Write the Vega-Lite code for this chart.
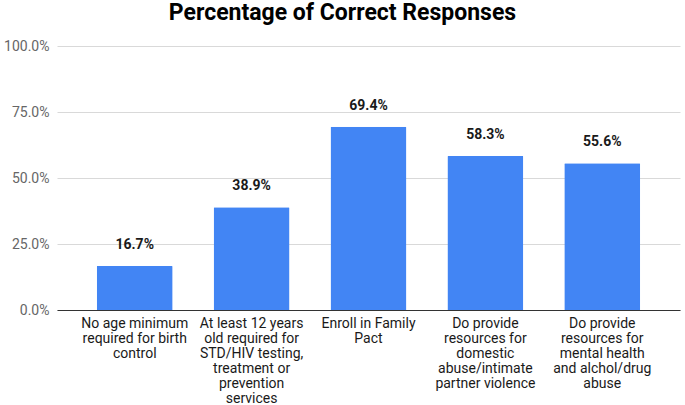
{
  "$schema": "https://vega.github.io/schema/vega-lite/v6.json",
  "width": 623,
  "height": 264,
  "autosize": "none",
  "padding": {"left": 57, "top": 46, "right": 5, "bottom": 95},
  "background": "white",
  "title": {
    "text": "Percentage of Correct Responses",
    "font": "Roboto",
    "fontSize": 23,
    "fontWeight": "bold",
    "color": "#000000",
    "anchor": "middle",
    "frame": "group",
    "dx": -26,
    "offset": 14
  },
  "data": {
    "values": [
      {"label": "No age minimum|required for birth|control", "value": 0.167},
      {"label": "At least 12 years|old required for|STD/HIV testing,|treatment or|prevention|services", "value": 0.389},
      {"label": "Enroll in Family|Pact", "value": 0.694},
      {"label": "Do provide|resources for|domestic|abuse/intimate|partner violence", "value": 0.583},
      {"label": "Do provide|resources for|mental health|and alchol/drug|abuse", "value": 0.556}
    ]
  },
  "encoding": {
    "x": {
      "field": "label",
      "type": "nominal",
      "sort": null,
      "scale": {"paddingInner": 0.35, "paddingOuter": 0.34},
      "axis": {
        "title": null,
        "labelAngle": 0,
        "labelExpr": "split(datum.value, '|')",
        "labelFont": "Roboto",
        "labelFontSize": 14,
        "labelLineHeight": 15,
        "labelColor": "#1a1a1a",
        "labelPadding": 6,
        "ticks": false,
        "domainColor": "#333333",
        "domainWidth": 1.2,
        "labelLimit": 200
      }
    },
    "y": {
      "field": "value",
      "type": "quantitative",
      "scale": {"domain": [0, 1]},
      "axis": {
        "title": null,
        "format": ".1%",
        "values": [0, 0.25, 0.5, 0.75, 1],
        "labelFont": "Roboto",
        "labelFontSize": 14,
        "labelColor": "#666666",
        "labelPadding": 8,
        "ticks": false,
        "domain": false,
        "gridColor": "#d9d9d9",
        "gridWidth": 1
      }
    }
  },
  "layer": [
    {
      "mark": {"type": "bar", "color": "#4285F4", "cornerRadiusTopLeft": 1, "cornerRadiusTopRight": 1}
    },
    {
      "mark": {
        "type": "text",
        "baseline": "bottom",
        "dy": -14,
        "font": "Roboto",
        "fontSize": 14,
        "fontWeight": "bold",
        "color": "#1a1a1a"
      },
      "encoding": {
        "text": {"field": "value", "type": "quantitative", "format": ".1%"}
      }
    }
  ],
  "config": {"view": {"stroke": null}}
}
